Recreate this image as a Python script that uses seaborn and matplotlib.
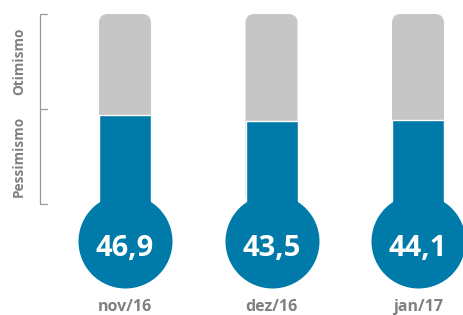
import matplotlib
matplotlib.use("Agg")
import matplotlib.pyplot as plt
import seaborn as sns
import pandas as pd
from matplotlib.patches import FancyBboxPatch
import matplotlib.transforms as mtransforms

categories = ["nov/16", "dez/16", "jan/17"]
values = [46.9, 43.5, 44.1]
value_labels = ["46,9", "43,5", "44,1"]
scale_max = [100, 100, 100]
side_labels = ["Otimismo", "Pessimismo"]

BLUE = "#007BA9"
GRAY = "#C6C6C6"
TXT = "#808080"

sns.set_theme(style="white")
plt.rcParams['font.family'] = ['Open Sans', 'DejaVu Sans']

W, H = 464, 315
fig = plt.figure(figsize=(W / 100, H / 100), dpi=100)
ax = fig.add_axes([0, 0, 1, 1])

df = pd.DataFrame({"cat": categories, "val": values, "full": scale_max})

# pixel mapping: x px = 125 + 146.5*i ; y from bottom px = 111 + 1.9*v
x0, dx = 125, 146.5
y0, dy = 111, 1.9
XL = (-x0 / dx, (W - x0) / dx)
YL = (-y0 / dy, (H - y0) / dy)

bw = 52 / dx
sns.barplot(data=df, x="cat", y="full", color=GRAY, width=bw, ax=ax,
            saturation=1, zorder=1)
# turn gray bars into rounded-top tubes
aspect = (1 / dy) / (1 / dx)
for p in list(ax.patches):
    bx, by, w, h = p.get_x(), p.get_y(), p.get_width(), p.get_height()
    p.remove()
    fb = FancyBboxPatch((bx, by), w, h,
                        boxstyle=f"round,pad=0,rounding_size={9/dx}",
                        mutation_aspect=aspect, fc=GRAY, ec="none", zorder=1)
    ax.add_patch(fb)

sns.barplot(data=df, x="cat", y="val", color=BLUE, width=bw, ax=ax,
            saturation=1, zorder=2)

# bulbs
bulb_y = (74 - y0) / dy
d_pt = 94 * 72 / 100
ax.scatter(range(len(categories)), [bulb_y] * len(categories), s=d_pt ** 2,
           color=BLUE, zorder=3, linewidths=0)

for i, lab in enumerate(value_labels):
    ax.text(i, bulb_y - 4.0, lab, ha="center", va="center", color="white",
            fontsize=21, fontweight="bold", zorder=4)

trans = mtransforms.blended_transform_factory(ax.transData, ax.transAxes)
for i, c in enumerate(categories):
    ax.text(i, (H - 307) / H, c, ha="center", va="center", color=TXT,
            fontsize=11.5, fontweight="bold", transform=trans)

# side bracket
bx_ = (40 - x0) / dx
tx_ = (47 - x0) / dx
ax.plot([tx_, bx_, bx_, tx_], [100, 100, 0, 0], color="#999999", lw=0.9,
        solid_joinstyle="miter", zorder=1)
ax.plot([bx_, tx_], [50, 50], color="#999999", lw=0.9, zorder=1)
lx = (19 - x0) / dx
ax.text(lx, 75, side_labels[0], rotation=90, ha="center", va="center",
        color=TXT, fontsize=9.8, fontweight="bold")
ax.text(lx, 25, side_labels[1], rotation=90, ha="center", va="center",
        color=TXT, fontsize=9.8, fontweight="bold")

ax.set_xlim(*XL)
ax.set_ylim(*YL)
ax.set_axis_off()
fig.savefig("out.png", dpi=100)
